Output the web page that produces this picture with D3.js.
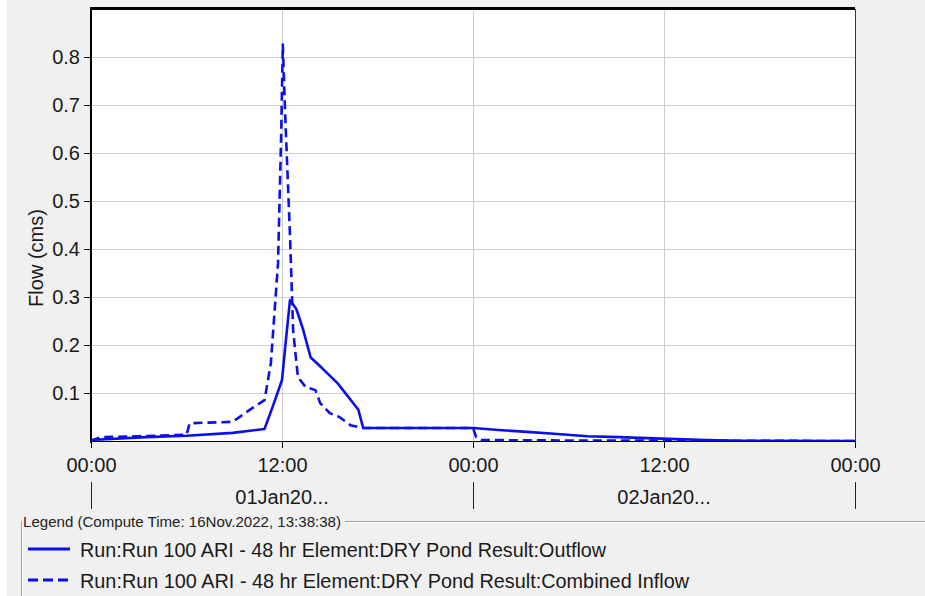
<!DOCTYPE html>
<html>
<head>
<meta charset="utf-8">
<script src="https://cdn.jsdelivr.net/npm/d3@7/dist/d3.min.js"></script>
<style>
  html, body { margin: 0; padding: 0; background: #f0f0f0; }
  svg { display: block; font-family: "Liberation Sans", Arial, sans-serif; }
</style>
</head>
<body>
<svg id="chart" width="925" height="596"></svg>
<script>
// ---- data (hours from 01Jan 00:00, flow in cms) ----
const outflowHours = [0, 3.5, 6, 8.9, 10.9, 11.4, 12.0, 12.2, 12.5, 12.9, 13.3, 13.8, 14.2, 15.5, 16.8, 17.1, 24, 25.6, 27.4, 29.3, 31.2, 33.2, 34.9, 36.8, 38.7, 40.8, 48];
const outflowValues = [0.002, 0.008, 0.011, 0.017, 0.025, 0.070, 0.127, 0.195, 0.293, 0.275, 0.235, 0.174, 0.162, 0.120, 0.065, 0.027, 0.027, 0.023, 0.019, 0.0145, 0.010, 0.008, 0.006, 0.004, 0.002, 0.0005, 0.0];

const inflowHours = [0, 0.6, 3, 6, 6.2, 8.9, 9.5, 10.2, 10.9, 11.3, 11.75, 11.95, 12.05, 12.2, 12.5, 12.7, 13.0, 13.5, 14.1, 14.4, 15.0, 15.6, 16.3, 16.8, 17.0, 24, 24.2, 24.5, 30, 48];
const inflowValues = [0.0, 0.008, 0.010, 0.013, 0.037, 0.040, 0.054, 0.070, 0.085, 0.162, 0.370, 0.640, 0.826, 0.680, 0.430, 0.230, 0.133, 0.112, 0.106, 0.079, 0.058, 0.050, 0.033, 0.029, 0.027, 0.027, 0.008, 0.002, 0.001, 0.0];

const yTickValues = [0.1, 0.2, 0.3, 0.4, 0.5, 0.6, 0.7, 0.8];
const xTickHours = [0, 12, 24, 36, 48];
const xTickLabels = ["00:00", "12:00", "00:00", "12:00", "00:00"];
const dayHours = [12, 36];
const dayLabels = ["01Jan20...", "02Jan20..."];
const daySeparators = [0, 24, 48];
const yAxisTitle = "Flow (cms)";
const legendTitle = "Legend (Compute Time: 16Nov.2022, 13:38:38)";
const seriesNames = ["Run:Run 100 ARI - 48 hr Element:DRY Pond Result:Outflow",
                     "Run:Run 100 ARI - 48 hr Element:DRY Pond Result:Combined Inflow"];

// ---- layout ----
const svg = d3.select("#chart");
const L = 91, R = 855, T = 9, B = 441;
const blue = "#0a10e6";

const x = d3.scaleLinear().domain([0, 48]).range([L, R]);
const y = d3.scaleLinear().domain([0, 0.9]).range([B, T]);

// background pieces
svg.append("rect").attr("x", 0).attr("y", 0).attr("width", 925).attr("height", 596).attr("fill", "#f0f0f0");
svg.append("rect").attr("x", 0).attr("y", 0).attr("width", 7).attr("height", 596).attr("fill", "#ffffff");
svg.append("rect").attr("x", L).attr("y", T).attr("width", R - L).attr("height", B - T).attr("fill", "#ffffff");

// grid
const grid = svg.append("g");
grid.selectAll("line.h").data(yTickValues).enter().append("line")
  .attr("x1", L).attr("x2", R).attr("y1", d => Math.round(y(d)) + 0.5).attr("y2", d => Math.round(y(d)) + 0.5)
  .attr("stroke", "#cccccc").attr("stroke-width", 1);
grid.selectAll("line.v").data(xTickHours.slice(1, -1)).enter().append("line")
  .attr("x1", d => Math.round(x(d)) + 0.5).attr("x2", d => Math.round(x(d)) + 0.5).attr("y1", T).attr("y2", B)
  .attr("stroke", "#cccccc").attr("stroke-width", 1);

// lines
const line = d3.line().x(d => x(d[0])).y(d => y(d[1]));
svg.append("clipPath").attr("id", "plotclip").append("rect")
  .attr("x", L).attr("y", T).attr("width", R - L).attr("height", B - T + 1);

svg.append("path").datum(inflowHours.map((h, i) => [h, inflowValues[i]]))
  .attr("d", line).attr("fill", "none").attr("stroke", blue).attr("stroke-width", 2.6)
  .attr("stroke-dasharray", "9,5").attr("stroke-linejoin", "round").attr("clip-path", "url(#plotclip)");
svg.append("path").datum(outflowHours.map((h, i) => [h, outflowValues[i]]))
  .attr("d", line).attr("fill", "none").attr("stroke", blue).attr("stroke-width", 2.6)
  .attr("stroke-linejoin", "round").attr("clip-path", "url(#plotclip)");

// frame
svg.append("line").attr("x1", L).attr("x2", R).attr("y1", T - 0.5).attr("y2", T - 0.5).attr("stroke", "#000").attr("stroke-width", 3);
svg.append("line").attr("x1", R + 0.5).attr("x2", R + 0.5).attr("y1", T).attr("y2", B).attr("stroke", "#333").attr("stroke-width", 1);

// y axis
const yAxis = d3.axisLeft(y).tickValues(yTickValues).tickFormat(d3.format(".1f")).tickSize(7).tickPadding(4);
const gy = svg.append("g").attr("transform", `translate(${L},0)`).call(yAxis);
gy.select(".domain").attr("stroke", "#000").attr("stroke-width", 2).attr("d", `M0,${T - 2}V${B + 2}`);
gy.selectAll(".tick line").attr("stroke", "#000");
gy.selectAll(".tick text").attr("font-size", 20).attr("fill", "#1a1a1a").attr("font-family", "Liberation Sans, Arial, sans-serif");

svg.append("text").attr("transform", `translate(43,${258}) rotate(-90)`)
  .attr("text-anchor", "middle").attr("font-size", 20).attr("fill", "#1a1a1a").text(yAxisTitle);

// x axis
const xAxis = d3.axisBottom(x).tickValues(xTickHours).tickFormat((d, i) => xTickLabels[i]).tickSize(7).tickPadding(10);
const gx = svg.append("g").attr("transform", `translate(0,${B})`).call(xAxis);
gx.select(".domain").attr("stroke", "#000").attr("stroke-width", 1).attr("d", `M${L},0.5H${R}`);
gx.selectAll(".tick line").attr("stroke", "#000");
gx.selectAll(".tick text").attr("font-size", 20).attr("fill", "#1a1a1a").attr("font-family", "Liberation Sans, Arial, sans-serif");

// day row
svg.selectAll("line.daysep").data(daySeparators).enter().append("line")
  .attr("x1", d => Math.round(x(d)) + 0.5).attr("x2", d => Math.round(x(d)) + 0.5)
  .attr("y1", 482).attr("y2", 509).attr("stroke", "#222").attr("stroke-width", 1);
svg.selectAll("text.day").data(dayHours).enter().append("text")
  .attr("x", d => x(d)).attr("y", 504).attr("text-anchor", "middle")
  .attr("font-size", 20).attr("fill", "#1a1a1a").text((d, i) => dayLabels[i]);

// legend group box
const lg = svg.append("g");
lg.append("text").attr("x", 23).attr("y", 527).attr("font-size", 15).attr("fill", "#222")
  .attr("textLength", 318).attr("lengthAdjust", "spacingAndGlyphs").text(legendTitle);
lg.append("path").attr("d", "M345,521.5H925M21.5,596V521.5H22").attr("fill", "none").attr("stroke", "#a0a0a0");
lg.append("path").attr("d", "M345,522.5H925M22.5,596V523").attr("fill", "none").attr("stroke", "#ffffff");

const legendY = [549, 580];
const legendTextLen = [526, 609];
seriesNames.forEach((name, i) => {
  lg.append("line").attr("x1", 28).attr("x2", 70).attr("y1", legendY[i]).attr("y2", legendY[i])
    .attr("stroke", blue).attr("stroke-width", 2.8)
    .attr("stroke-dasharray", i === 1 ? "10,5" : null);
  lg.append("text").attr("x", 80).attr("y", legendY[i] + 7.5).attr("font-size", 21).attr("fill", "#1a1a1a")
    .attr("textLength", legendTextLen[i]).attr("lengthAdjust", "spacingAndGlyphs").text(name);
});
</script>
</body>
</html>
